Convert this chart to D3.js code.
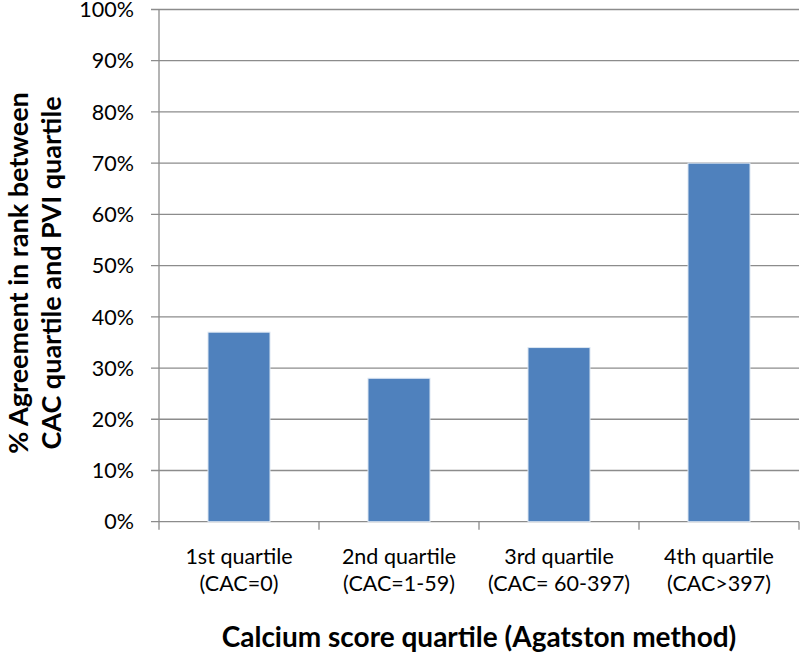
<!DOCTYPE html>
<html><head><meta charset="utf-8">
<script src="https://cdn.jsdelivr.net/npm/d3@7"></script>
<style>body{margin:0;background:#fff}svg{display:block}text{font-family:Lato,"Open Sans",sans-serif;fill:#000}</style>
</head><body><svg id="c" width="800" height="654"></svg>
<script>
const categories = ["1st quartile", "2nd quartile", "3rd quartile", "4th quartile"];
const subLabels = ["(CAC=0)", "(CAC=1-59)", "(CAC= 60-397)", "(CAC>397)"];
const values = [37, 28, 34, 70];
const yTicks = [0,10,20,30,40,50,60,70,80,90,100];
const yTitle = ["% Agreement  in rank between", "CAC quartile and PVI quartile"];
const xTitle = "Calcium score quartile (Agatston method)";

const svg = d3.select("#c");
const L = 159, R = 799, T = 9.5, B = 521.7;
const x = d3.scaleBand().domain(categories).range([L, R]).paddingInner(0.6125).paddingOuter(0.30625);
const y = d3.scaleLinear().domain([0, 100]).range([B, T]);
const grid = "#8c8c8c";

// gridlines + y ticks
svg.append("g").selectAll("line").data(yTicks).join("line")
  .attr("x1", L - 8).attr("x2", R).attr("y1", d => y(d)).attr("y2", d => y(d))
  .attr("stroke", grid).attr("stroke-width", 1.3);
svg.append("g").selectAll("text").data(yTicks).join("text")
  .attr("x", 134).attr("y", d => y(d)).attr("dy", "0.36em").attr("text-anchor", "end")
  .style("font-size", "21.5px").text(d => d + "%");

// y axis line
svg.append("line").attr("x1", L).attr("x2", L).attr("y1", T).attr("y2", B + 8).attr("stroke", grid).attr("stroke-width", 1.3);
// category ticks
const step = x.step();
svg.append("g").selectAll("line").data(d3.range(1, categories.length + 1)).join("line")
  .attr("x1", i => L + i * step).attr("x2", i => L + i * step).attr("y1", B).attr("y2", B + 8)
  .attr("stroke", grid).attr("stroke-width", 1.3);

// bars
svg.append("g").selectAll("rect").data(values).join("rect")
  .attr("x", (d, i) => x(categories[i])).attr("width", x.bandwidth())
  .attr("y", d => y(d)).attr("height", d => B - y(d))
  .attr("fill", "#4f81bd").attr("stroke", "#dce6f2").attr("stroke-width", 1);

// category labels
const cl = svg.append("g");
categories.forEach((c, i) => {
  const cx = x(c) + x.bandwidth() / 2;
  cl.append("text").attr("x", cx).attr("y", 564).attr("text-anchor", "middle").style("font-size", "21.5px").text(c);
  cl.append("text").attr("x", cx).attr("y", 591).attr("text-anchor", "middle").style("font-size", "21.5px").text(subLabels[i]);
});

// x title
svg.append("text").attr("x", (L + R) / 2).attr("y", 647).attr("text-anchor", "middle")
  .style("font-size", "28px").style("font-weight", "bold").text(xTitle);

// y title
const yt = svg.append("text").attr("transform", `translate(0,273) rotate(-90)`)
  .attr("text-anchor", "middle").style("font-size", "27px").style("font-weight", "bold");
yt.append("tspan").attr("x", 0).attr("y", 28).text(yTitle[0]);
yt.append("tspan").attr("x", 0).attr("y", 61).text(yTitle[1]);
</script></body></html>
